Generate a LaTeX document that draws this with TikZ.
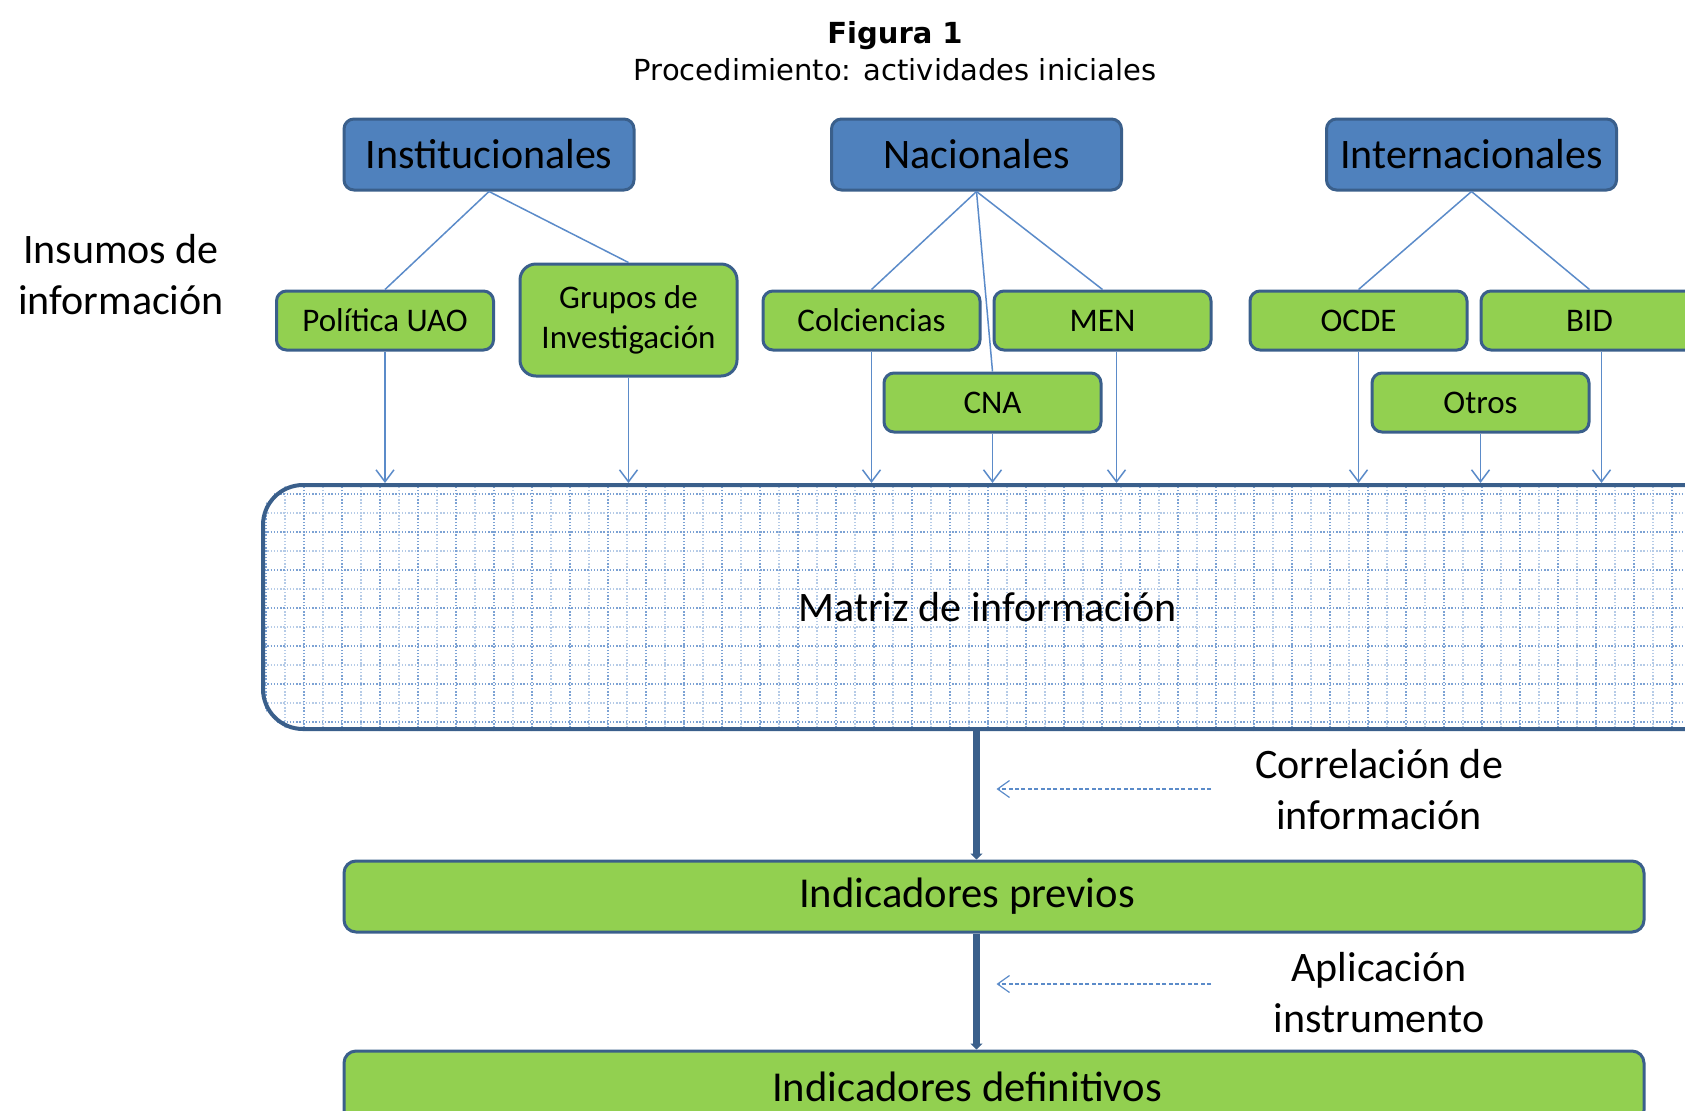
\documentclass[tikz,border=0pt]{standalone}
\usepackage{fontspec}
\setmainfont{Carlito}
\newfontfamily\titlefont{DejaVu Sans}
\usetikzlibrary{positioning,arrows.meta,backgrounds}
\definecolor{boxblue}{HTML}{4F81BD}
\definecolor{edgeblue}{HTML}{3A5F8B}
\definecolor{leafgreen}{HTML}{92D050}
\definecolor{linkblue}{HTML}{5B8BC9}

\begin{document}
\begin{tikzpicture}[x=0.5pt,y=-0.5pt,
  source/.style={draw=edgeblue,line width=1.5pt,fill=boxblue,rounded corners=5pt,minimum width=145pt,minimum height=35.5pt,font=\fontsize{21}{25}\selectfont},
  leaf/.style={draw=edgeblue,line width=1.5pt,fill=leafgreen,rounded corners=5pt,minimum width=108.5pt,minimum height=29.5pt,font=\fontsize{16.5}{20}\selectfont},
  stage/.style={draw=edgeblue,line width=1.5pt,fill=leafgreen,rounded corners=6pt,minimum width=650pt,minimum height=35.5pt,font=\fontsize{21.3}{25}\selectfont},
  link/.style={draw=linkblue,line width=0.75pt},
  feed/.style={link,-{Straight Barb[length=6pt,width=9pt]}},
  flow/.style={draw=edgeblue,line width=3.5pt,-{Triangle[length=3pt,width=6pt]}},
  hint/.style={link,line width=0.6pt,dash pattern=on 2pt off 1.2pt,-{Straight Barb[length=6pt,width=8.5pt]}},
  remark/.style={align=center,font=\fontsize{21}{25.5}\selectfont},
  gridline/.style={line width=0.7pt,dash pattern=on 0.7pt off 0.9pt}]
\useasboundingbox (0,0) rectangle (1685,1110);

% title
\node[font=\titlefont\bfseries\fontsize{14.5}{17}\selectfont] (fig) at (895,36) {Figura 1};
\node[font=\titlefont\fontsize{14.5}{17}\selectfont] (proc) at (895,70) {Procedimiento: actividades iniciales};

\node[remark] (insumos) at (121,274.5) {Insumos de\\información};

% sources
\node[source] (inst) at (489,154.5) {Institucionales};
\node[source] (nac) at (976.5,154.5) {Nacionales};
\node[source] (inter) at (1471.5,154.5) {Internacionales};

\node[leaf] (pol) at (385,320.5) {Política UAO};
\node[leaf,align=center,minimum height=56pt,rounded corners=8pt] (grp) at (628.5,320) {Grupos de\\Investigación};
\node[leaf] (col) at (871.5,320.5) {Colciencias};
\node[leaf] (men) at (1102.5,320.5) {MEN};
\node[leaf] (cna) at (992.5,402.5) {CNA};
\node[leaf] (ocde) at (1358.5,320.5) {OCDE};
\node[leaf] (bid) at (1589.5,320.5) {BID};
\node[leaf] (otros) at (1480.5,402.5) {Otros};

\draw[link] (inst.south) -- (pol.north);
\draw[link] (inst.south) -- (grp.north);
\draw[link] (nac.south) -- (col.north);
\draw[link] (nac.south) -- (cna.north);
\draw[link] (nac.south) -- (men.north);
\draw[link] (inter.south) -- (ocde.north);
\draw[link] (inter.south) -- (bid.north);

% matrix
\node[draw=edgeblue,line width=2pt,rounded corners=20pt,minimum width=731pt,minimum height=122pt,font=\fontsize{21}{25}\selectfont] (matriz) at (994,607) {\hspace*{-6.5pt}Matriz de información};
\begin{scope}[on background layer]
\clip[rounded corners=20pt] (matriz.south west) rectangle (matriz.north east);
\draw[gridline,linkblue!45] (matriz.south west) grid[step=9.5pt] (matriz.north east);
\draw[gridline,linkblue!80] (matriz.south west) grid[step=19pt] (matriz.north east);
\end{scope}

\draw[feed] (pol.south) -- (pol.south |- matriz.north);
\draw[feed] (grp.south) -- (grp.south |- matriz.north);
\draw[feed] (col.south) -- (col.south |- matriz.north);
\draw[feed] (cna.south) -- (cna.south |- matriz.north);
\draw[feed] ([xshift=7pt]men.south) -- ([xshift=7pt]men.south |- matriz.north);
\draw[feed] (ocde.south) -- (ocde.south |- matriz.north);
\draw[feed] (otros.south) -- (otros.south |- matriz.north);
\draw[feed] ([xshift=6pt]bid.south) -- ([xshift=6pt]bid.south |- matriz.north);

% indicators
\node[stage] (prev) at (994,896.5) {\hspace*{-27pt}Indicadores previos};
\node[stage] (defi) at (994,1086.5) {\hspace*{-27pt}Indicadores definitivos};

\draw[flow] (matriz.south -| nac.south) -- (prev.north -| nac.south);
\draw[flow] (prev.south -| nac.south) -- (defi.north -| nac.south);

\node[remark] (corr) at (1379,790) {Correlación de\\información};
\node[remark] (apl) at (1379,993) {Aplicación\\instrumento};
\coordinate (corrtail) at (1211,789);
\coordinate (apltail) at (1211,984);
\draw[hint] (corrtail) -- ([xshift=10pt]corrtail -| nac.south);
\draw[hint] (apltail) -- ([xshift=10pt]apltail -| nac.south);
\end{tikzpicture}
\end{document}
